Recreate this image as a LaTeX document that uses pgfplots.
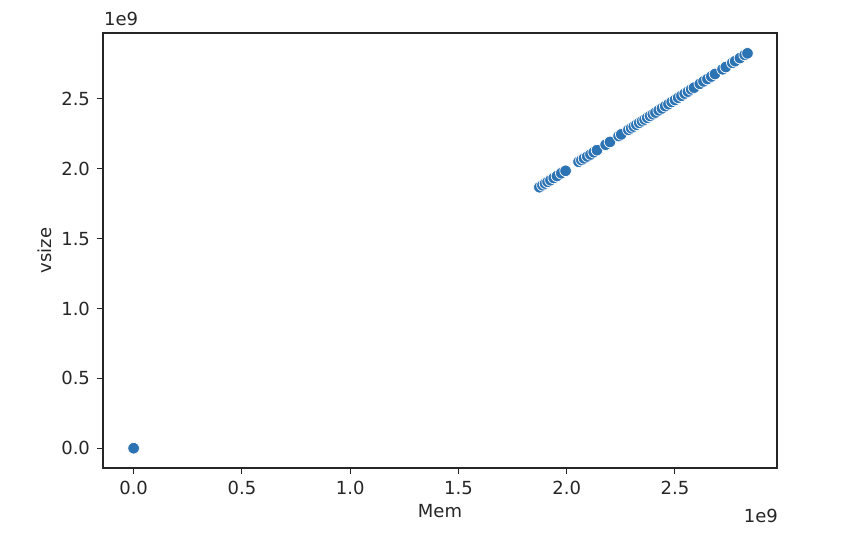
\documentclass[border=0pt]{standalone}
\usepackage{pgfplots}
\pgfplotsset{compat=1.18}
\usepackage{fontspec}
\setmainfont{DejaVu Sans}
\definecolor{pt}{HTML}{2C73B4}
\definecolor{tk}{HTML}{262626}
\begin{document}
\begin{tikzpicture}
\begin{axis}[
  scale only axis, width=337pt, height=217.5pt,
  xmin=-0.1415, xmax=2.9715, ymin=-0.1415, ymax=2.9715,
  xtick={0,0.5,...,2.5}, ytick={0,0.5,...,2.5},
  scaled ticks=false,
  /pgf/number format/.cd, fixed, fixed zerofill, precision=1, assume math mode=true,
  /pgfplots/.cd,
  tick label style={font=\fontsize{9}{11}\selectfont, text=tk},
  label style={font=\fontsize{9}{11}\selectfont, text=tk},
  xlabel={Mem}, ylabel={vsize},
  xlabel style={yshift=2pt}, ylabel style={yshift=-2pt},
  tick align=outside, tick pos=left, major tick length=3pt,
  tick style={tk, line width=0.5pt},
  axis line style={tk, line width=0.6pt},
  clip=false,
]
\addplot[only marks, mark=*, mark size=2.9pt,
  mark options={fill=pt, draw=white, line width=0.35pt}] coordinates {
(0.000,0.000)
(1.874,1.868)(1.888,1.882)(1.900,1.894)(1.912,1.906)(1.925,1.918)(1.940,1.934)(1.955,1.948)(1.975,1.968)(1.995,1.985)
(2.055,2.050)(2.068,2.062)(2.080,2.074)(2.095,2.088)(2.110,2.102)(2.125,2.118)(2.140,2.133)
(2.180,2.172)(2.200,2.192)(2.240,2.234)(2.252,2.246)
(2.285,2.278)(2.298,2.290)(2.310,2.302)(2.322,2.315)(2.335,2.328)(2.348,2.340)(2.360,2.352)(2.372,2.365)(2.385,2.378)(2.398,2.390)(2.410,2.402)(2.425,2.418)(2.440,2.432)(2.455,2.448)(2.470,2.462)(2.485,2.478)
(2.500,2.492)(2.515,2.508)(2.530,2.522)(2.545,2.538)(2.560,2.552)(2.575,2.568)(2.588,2.580)
(2.615,2.608)(2.632,2.625)(2.650,2.642)(2.668,2.660)(2.685,2.678)
(2.720,2.712)(2.735,2.728)(2.765,2.758)(2.778,2.770)(2.800,2.792)(2.822,2.815)(2.835,2.826)
};
\end{axis}
\node[anchor=south west, font=\fontsize{9}{11}\selectfont, text=tk] at ([xshift=-3pt,yshift=0pt]current axis.north west) {1e9};
\node[anchor=north east, font=\fontsize{9}{11}\selectfont, text=tk] at ([xshift=4pt,yshift=-17pt]current axis.south east) {1e9};
\path[use as bounding box] ([shift={(-51.5pt,-46pt)}]current axis.south west) rectangle ([shift={(45.5pt,16.5pt)}]current axis.north east);
\end{tikzpicture}
\end{document}
